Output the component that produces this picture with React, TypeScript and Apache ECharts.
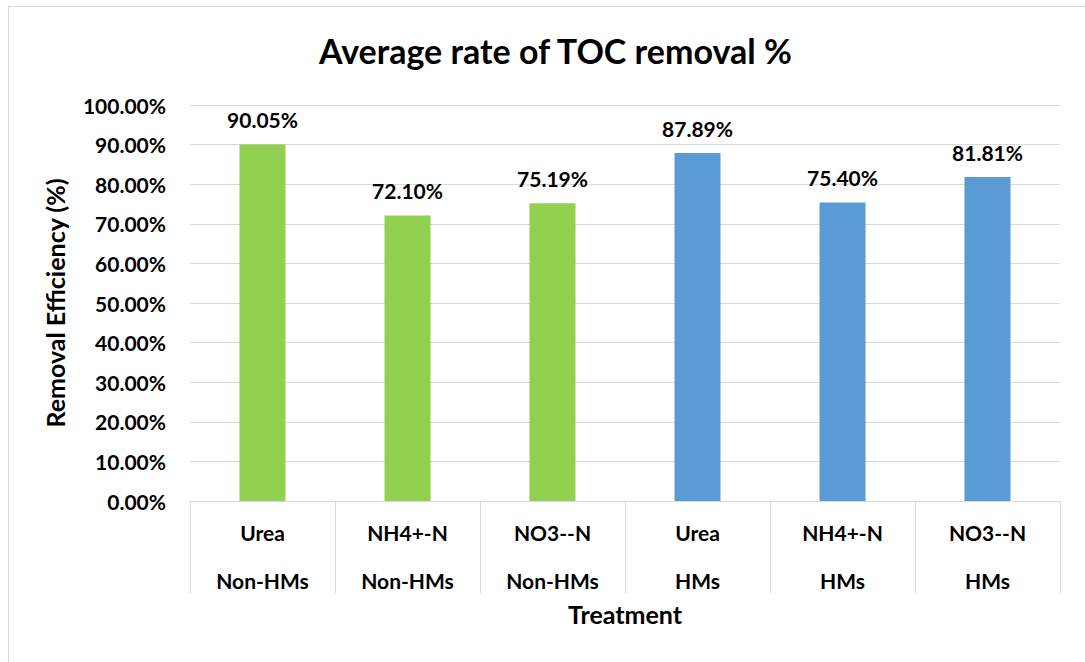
import React, { useEffect, useRef } from "react";
import * as echarts from "echarts";

const treatments = ["Urea", "NH4+-N", "NO3--N", "Urea", "NH4+-N", "NO3--N"];
const groups = ["Non-HMs", "Non-HMs", "Non-HMs", "HMs", "HMs", "HMs"];
const removalValues = [90.05, 72.1, 75.19, 87.89, 75.4, 81.81];
const barColors = ["#92D050", "#92D050", "#92D050", "#5B9BD5", "#5B9BD5", "#5B9BD5"];

const FONT = "Lato, 'Open Sans', sans-serif";

export default function App() {
  const ref = useRef<HTMLDivElement>(null);
  useEffect(() => {
    if (!ref.current) return;
    const chart = echarts.init(ref.current, undefined, { renderer: "svg" });
    const categories = treatments.map((t, i) => `${t}\n${groups[i]}`);
    chart.setOption({
      animation: false,
      backgroundColor: "#ffffff",
      textStyle: { fontFamily: FONT },
      title: {
        text: "Average rate of TOC removal %",
        left: 314,
        top: 28,
        textStyle: { fontSize: 34, fontWeight: "bold", color: "#000", fontFamily: FONT },
      },
      graphic: [
        {
          type: "rect",
          shape: { x: 8.5, y: 6.5, width: 1100, height: 700 },
          style: { fill: "none", stroke: "#d9d9d9", lineWidth: 1 },
          silent: true,
        },
      ],
      grid: { left: 190, right: 25, top: 105, bottom: 161, containLabel: false },
      xAxis: {
        type: "category",
        data: categories,
        name: "Treatment",
        nameLocation: "middle",
        nameGap: 100,
        nameMoveOverlap: false,
        nameTextStyle: { fontSize: 25, fontWeight: "bold", color: "#000", fontFamily: FONT },
        axisLine: { show: true, lineStyle: { color: "#d9d9d9", width: 1 } },
        axisTick: { show: true, interval: 0, length: 92, lineStyle: { color: "#d9d9d9", width: 1 } },
        axisLabel: {
          interval: 0,
          margin: 7,
          fontSize: 21,
          fontWeight: "bold",
          color: "#000",
          lineHeight: 48,
          fontFamily: FONT,
        },
      },
      yAxis: {
        type: "value",
        min: 0,
        max: 100,
        interval: 10,
        name: "Removal Efficiency (%)",
        nameLocation: "middle",
        nameGap: 123,
        nameTextStyle: { fontSize: 25, fontWeight: "bold", color: "#000", fontFamily: FONT },
        axisLine: { show: false },
        axisTick: { show: false },
        splitLine: { lineStyle: { color: "#d9d9d9", width: 1 } },
        axisLabel: {
          margin: 24,
          fontSize: 21,
          fontWeight: "bold",
          color: "#000",
          fontFamily: FONT,
          formatter: (v: number) => `${v.toFixed(2)}%`,
        },
      },
      series: [
        {
          type: "bar",
          barWidth: 46,
          data: removalValues.map((v, i) => ({ value: v, itemStyle: { color: barColors[i] } })),
          label: {
            show: true,
            position: "top",
            distance: 14,
            fontSize: 21,
            fontWeight: "bold",
            color: "#000",
            fontFamily: FONT,
            formatter: (p: any) => `${Number(p.value).toFixed(2)}%`,
          },
        },
      ],
    });
    return () => chart.dispose();
  }, []);
  return (
    <div
      ref={ref}
      style={{ position: "absolute", left: 0, top: 0, width: 1085, height: 662 }}
    />
  );
}
